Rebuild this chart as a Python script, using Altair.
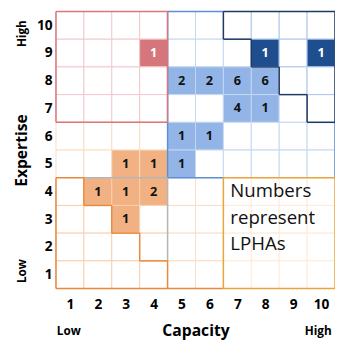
import altair as alt
import pandas as pd

# ---- data ----
# region layout, rows 10 (top) .. 1 (bottom), columns 1..10
LAYOUT = [
    "RRRRBBNNNN",
    "RRRRBBBNNN",
    "RRRRBBBBNN",
    "RRRRBBBBBN",
    "PPPPBBBBBB",
    "PPPPBBBBBB",
    "OOOOPPYYYY",
    "OOOOPPYYYY",
    "OOOOPPYYYY",
    "OOOOPPYYYY",
]
cap_vals = [4, 8, 10, 5, 6, 7, 8, 7, 8, 5, 6, 5, 3, 4, 2, 3, 4, 3]
exp_vals = [9, 9, 9, 8, 8, 8, 8, 7, 7, 6, 6, 5, 5, 5, 4, 4, 4, 3]
lpha_n   = [1, 1, 1, 2, 2, 6, 6, 4, 1, 1, 1, 1, 1, 1, 1, 1, 2, 1]

ticks = list(range(1, 11))
note_lines = ["Numbers", "represent", "LPHAs"]

# region outlines (polylines in cell units)
OUTLINES = {
    "blue": [[(4.5, 10.5), (6.5, 10.5)],
             [(4.5, 10.5), (4.5, 4.5), (6.5, 4.5)],
             [(10.5, 6.5), (10.5, 4.5)]],
    "gray": [[(4.5, 1.5), (4.5, 4.5)], [(1.5, 4.5), (4.5, 4.5)]],
    "orange": [[(0.5, 4.5), (1.5, 4.5), (1.5, 3.5), (2.5, 3.5), (2.5, 2.5),
                (3.5, 2.5), (3.5, 1.5), (4.5, 1.5), (4.5, 0.5)],
               [(0.5, 4.5), (0.5, 0.5), (6.5, 0.5)]],
    "gold": [[(6.5, 0.5), (6.5, 4.5), (10.5, 4.5), (10.5, 0.5), (6.5, 0.5)]],
    "red": [[(0.5, 6.5), (0.5, 10.5), (4.5, 10.5), (4.5, 6.5), (0.5, 6.5)]],
    "navy": [[(6.5, 10.5), (10.5, 10.5), (10.5, 6.5), (9.5, 6.5), (9.5, 7.5),
              (8.5, 7.5), (8.5, 8.5), (7.5, 8.5), (7.5, 9.5), (6.5, 9.5), (6.5, 10.5)]],
}

# ---- tables ----
group_of = {"R": "red", "N": "navy", "B": "blue", "O": "orange", "P": "orange", "Y": "orange"}
counts = {(c, e): n for c, e, n in zip(cap_vals, exp_vals, lpha_n)}
rows = []
for i, line in enumerate(LAYOUT):
    e = 10 - i
    for j, reg in enumerate(line):
        c = j + 1
        n = counts.get((c, e))
        rows.append({
            "x": c - 0.5, "x2": c + 0.5, "y": e - 0.5, "y2": e + 0.5,
            "cx": c, "cy": e, "region": reg,
            "fillgrp": group_of[reg] if n else "none",
            "n": str(n) if n else "",
            "txt": ("light" if group_of[reg] in ("red", "navy") else "dark"),
        })
cells = pd.DataFrame(rows)
labels = cells[cells["n"] != ""]

seg_rows = []
for name, lines in OUTLINES.items():
    for pts in lines:
        for (a, b), (c, d) in zip(pts[:-1], pts[1:]):
            seg_rows.append({"x": a, "y": b, "x2": c, "y2": d, "grp": name})
segs = pd.DataFrame(seg_rows)

FONT = "Open Sans"
xs = alt.Scale(domain=[0.5, 10.5], nice=False, zero=False)
ys = alt.Scale(domain=[0.5, 10.5], nice=False, zero=False)

xaxis = alt.Axis(values=ticks, title="Capacity", grid=False, domain=False, ticks=False,
                 labelOverlap=False, labelFlush=False,
                 labelFontSize=14, labelFontWeight="bold", labelPadding=9, labelColor="#000",
                 titleFontSize=16, titleFontWeight="bold", titlePadding=12, titleColor="#000",
                 labelFont=FONT, titleFont=FONT)
yaxis = alt.Axis(values=ticks, title="Expertise", grid=False, domain=False, ticks=False,
                 labelOverlap=False, labelFlush=False,
                 labelFontSize=14, labelFontWeight="bold", labelPadding=4, labelColor="#000",
                 titleFontSize=16, titleFontWeight="bold", titlePadding=7, titleColor="#000",
                 labelFont=FONT, titleFont=FONT)

rects = alt.Chart(cells).mark_rect(strokeWidth=1).encode(
    x=alt.X("x:Q", scale=xs, axis=xaxis),
    x2="x2:Q",
    y=alt.Y("y:Q", scale=ys, axis=yaxis),
    y2="y2:Q",
    fill=alt.Fill("fillgrp:N", legend=None, scale=alt.Scale(
        domain=["none", "red", "orange", "blue", "navy"],
        range=["#ffffff", "#d4767b", "#f2b183", "#92b4e6", "#1f4e8f"])),
    stroke=alt.Stroke("region:N", legend=None, scale=alt.Scale(
        domain=["R", "B", "N", "P", "O", "Y"],
        range=["#f3c8cb", "#c3d7f1", "#a9c6ec", "#fbdcc4", "#f8cfae", "#fdebd6"])),
)

rules = alt.Chart(segs).mark_rule(strokeWidth=1.5).encode(
    x=alt.X("x:Q", axis=xaxis), y=alt.Y("y:Q", axis=yaxis), x2="x2:Q", y2="y2:Q",
    color=alt.Color("grp:N", legend=None, scale=alt.Scale(
        domain=["blue", "gray", "orange", "gold", "red", "navy"],
        range=["#5b8fd6", "#b5b5b5", "#e8893c", "#eaa43c", "#d9777d", "#1f3864"])),
)

nums = alt.Chart(labels).mark_text(font=FONT, fontSize=13, fontWeight="bold").encode(
    x=alt.X("cx:Q", axis=xaxis), y=alt.Y("cy:Q", axis=yaxis), text="n:N",
    fill=alt.condition(alt.datum.txt == "light", alt.value("#ffffff"), alt.value("#111111")),
)

note = pd.DataFrame({"t": note_lines, "x": [6.75] * 3, "y": [4.0, 3.05, 2.1]})
note_mark = alt.Chart(note).mark_text(font=FONT, fontSize=19, align="left", fill="#111").encode(
    x=alt.X("x:Q", axis=xaxis), y=alt.Y("y:Q", axis=yaxis), text="t:N")

lh_x = pd.DataFrame({"t": ["Low", "High"], "x": [0.96, 9.9], "y": [-1.05, -1.05]})
lh_x_mark = alt.Chart(lh_x).mark_text(font=FONT, fontSize=12, fontWeight="bold", fill="#000").encode(
    x=alt.X("x:Q", axis=xaxis), y=alt.Y("y:Q", axis=yaxis), text="t:N")

lh_y = pd.DataFrame({"t": ["Low", "High"], "x": [-0.72, -0.72], "y": [1.13, 9.7]})
lh_y_mark = alt.Chart(lh_y).mark_text(font=FONT, fontSize=12, fontWeight="bold", angle=270, fill="#000").encode(
    x=alt.X("x:Q", axis=xaxis), y=alt.Y("y:Q", axis=yaxis), text="t:N")

chart = alt.layer(rects, rules, nums, note_mark, lh_x_mark, lh_y_mark).resolve_scale(
    color="independent"
).properties(
    width=285, height=283,
    padding={"left": 49, "top": 0, "right": 0, "bottom": 50},
    autosize=alt.AutoSizeParams(type="none"),
).configure_view(stroke=None).configure_axis(labelOverlap=False)

chart.save("out.html", embed_options={"renderer": "svg", "actions": False})
